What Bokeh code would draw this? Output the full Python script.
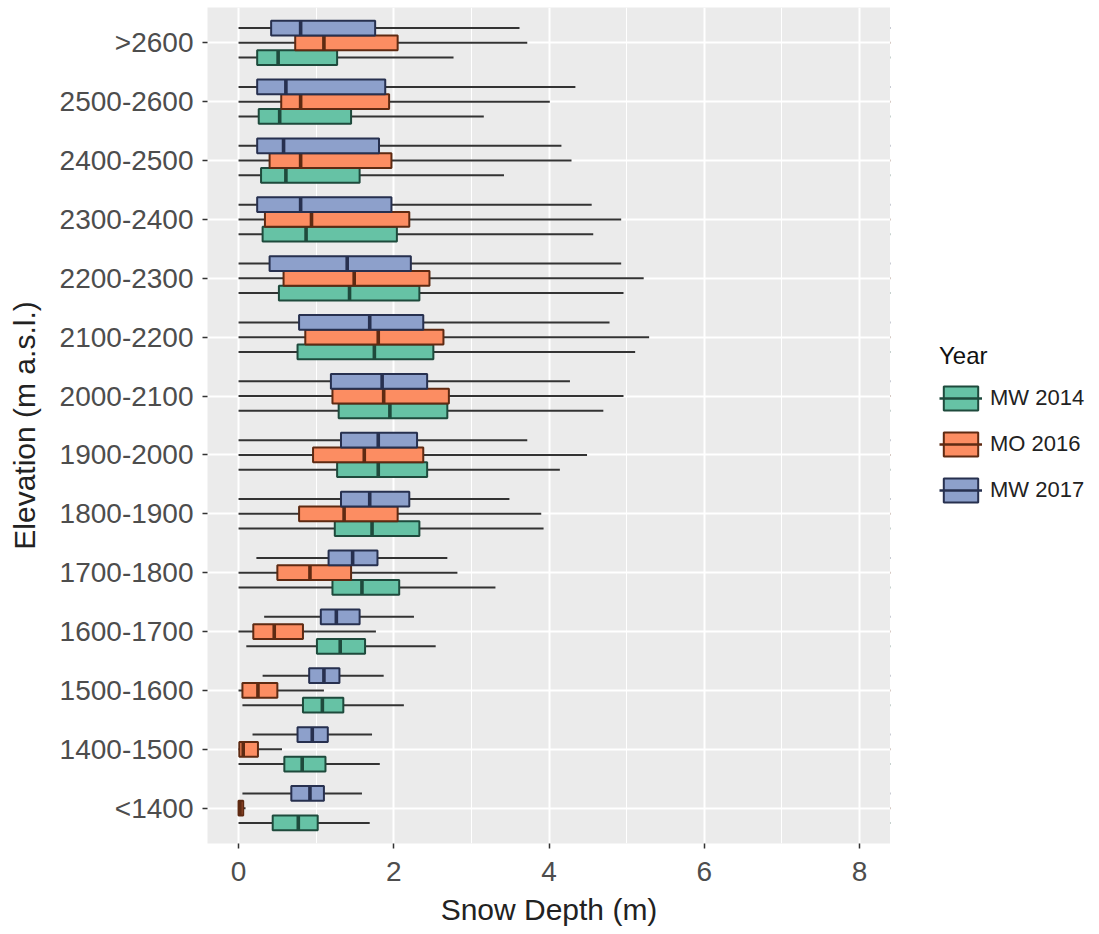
from bokeh.plotting import figure
from bokeh.layouts import row
from bokeh.models import (FactorRange, Range1d, FixedTicker, Legend, LegendItem,
                          ColumnDataSource)
from bokeh.transform import dodge
from bokeh.embed import file_html
from bokeh.resources import INLINE

# Elevation bands, bottom to top
cats = ["<1400", "1400-1500", "1500-1600", "1600-1700", "1700-1800", "1800-1900",
        "1900-2000", "2000-2100", "2100-2200", "2200-2300", "2300-2400",
        "2400-2500", "2500-2600", ">2600"]

years = ["MW 2014", "MO 2016", "MW 2017"]
fills = ["#66C2A5", "#FC8D62", "#8DA0CB"]
edges = ["#1E4A3C", "#5E2A12", "#27304F"]

# MW 2014 box statistics (m)
mw14_low = [0.00, 0.00, 0.05, 0.10, 0.00, 0.00, 0.00, 0.00, 0.00, 0.00, 0.00, 0.00, 0.00, 0.00]
mw14_q1  = [0.44, 0.59, 0.83, 1.01, 1.21, 1.24, 1.27, 1.29, 0.76, 0.52, 0.31, 0.29, 0.26, 0.24]
mw14_med = [0.77, 0.82, 1.08, 1.31, 1.59, 1.72, 1.80, 1.95, 1.75, 1.43, 0.87, 0.61, 0.53, 0.51]
mw14_q3  = [1.02, 1.12, 1.35, 1.63, 2.07, 2.33, 2.43, 2.69, 2.51, 2.33, 2.04, 1.56, 1.45, 1.27]
mw14_up  = [1.69, 1.82, 2.13, 2.54, 3.31, 3.93, 4.14, 4.70, 5.11, 4.96, 4.57, 3.42, 3.16, 2.77]

# MO 2016 box statistics (m)
mo16_low = [0.00, 0.00, 0.00, 0.00, 0.00, 0.00, 0.00, 0.00, 0.00, 0.00, 0.00, 0.00, 0.00, 0.00]
mo16_q1  = [0.00, 0.01, 0.05, 0.19, 0.50, 0.78, 0.96, 1.21, 0.86, 0.58, 0.34, 0.40, 0.55, 0.73]
mo16_med = [0.02, 0.06, 0.25, 0.46, 0.92, 1.36, 1.62, 1.87, 1.80, 1.49, 0.94, 0.80, 0.80, 1.10]
mo16_q3  = [0.06, 0.25, 0.50, 0.83, 1.45, 2.05, 2.38, 2.71, 2.64, 2.46, 2.20, 1.97, 1.94, 2.05]
mo16_up  = [0.09, 0.56, 1.10, 1.77, 2.82, 3.90, 4.49, 4.96, 5.29, 5.22, 4.93, 4.29, 4.01, 3.72]

# MW 2017 box statistics (m)
mw17_low = [0.05, 0.18, 0.31, 0.33, 0.23, 0.00, 0.00, 0.00, 0.00, 0.00, 0.00, 0.00, 0.00, 0.00]
mw17_q1  = [0.68, 0.76, 0.91, 1.06, 1.16, 1.32, 1.32, 1.19, 0.78, 0.40, 0.24, 0.24, 0.24, 0.42]
mw17_med = [0.92, 0.95, 1.10, 1.26, 1.47, 1.69, 1.80, 1.85, 1.69, 1.40, 0.80, 0.58, 0.61, 0.80]
mw17_q3  = [1.10, 1.15, 1.30, 1.56, 1.79, 2.20, 2.30, 2.43, 2.38, 2.22, 1.97, 1.81, 1.89, 1.76]
mw17_up  = [1.59, 1.72, 1.87, 2.26, 2.69, 3.49, 3.72, 4.27, 4.78, 4.93, 4.55, 4.16, 4.34, 3.62]

x_ticks = [0, 2, 4, 6, 8]
x_minor = [1, 3, 5, 7]

stats = [
    (mw14_low, mw14_q1, mw14_med, mw14_q3, mw14_up),
    (mo16_low, mo16_q1, mo16_med, mo16_q3, mo16_up),
    (mw17_low, mw17_q1, mw17_med, mw17_q3, mw17_up),
]
offsets = [-0.25, 0.0, 0.25]
box_h = 0.25

FONT = "Liberation Sans"

p = figure(width=890, height=934,
           y_range=FactorRange(factors=cats, range_padding=0.2 / 14),
           x_range=Range1d(-0.4, 8.4),
           output_backend="svg", toolbar_location=None,
           min_border_left=207, min_border_right=0,
           min_border_top=7, min_border_bottom=91)

p.background_fill_color = "#EBEBEB"
p.border_fill_color = "white"
p.outline_line_color = None

# legend panel: key glyphs are zero-size (only their styles feed the legend)
lg = figure(width=209, height=934, x_range=Range1d(50, 51), y_range=p.y_range,
            output_backend="svg", toolbar_location=None,
            x_axis_type=None, y_axis_type=None,
            min_border_left=0, min_border_right=0,
            min_border_top=7, min_border_bottom=91)
lg.outline_line_color = None
lg.background_fill_color = "white"
lg.border_fill_color = "white"
lg.grid.visible = False

items = []
for (lo, q1, med, q3, up), off, fc, ec, yr in zip(stats, offsets, fills, edges, years):
    src = ColumnDataSource(dict(cat=cats, lo=lo, q1=q1, med=med, q3=q3, up=up))
    p.segment(x0="lo", x1="up",
              y0=dodge("cat", off, range=p.y_range),
              y1=dodge("cat", off, range=p.y_range),
              source=src, line_color="#333333", line_width=2)
    p.hbar(y=dodge("cat", off, range=p.y_range), left="q1", right="q3",
           height=box_h, source=src, fill_color=fc, line_color=ec,
           line_width=2)
    p.segment(x0="med", x1="med",
              y0=dodge("cat", off - box_h / 2, range=p.y_range),
              y1=dodge("cat", off + box_h / 2, range=p.y_range),
              source=src, line_color=ec, line_width=3.6)
    kb = lg.hbar(y=dodge("cat", off, range=p.y_range), left="med", right="med",
                 height=0, source=src, fill_color=fc, line_color=ec,
                 line_width=2)
    km = lg.segment(x0="med", x1="med",
                    y0=dodge("cat", off, range=p.y_range),
                    y1=dodge("cat", off, range=p.y_range),
                    source=src, line_color=ec, line_width=2.4)
    items.append(LegendItem(label=yr, renderers=[kb, km]))

# grids
p.xgrid.ticker = FixedTicker(ticks=x_ticks, minor_ticks=x_minor)
p.xaxis.ticker = FixedTicker(ticks=x_ticks, minor_ticks=x_minor)
p.xgrid.grid_line_color = "white"
p.xgrid.grid_line_width = 2
p.xgrid.minor_grid_line_color = "white"
p.xgrid.minor_grid_line_width = 1
p.ygrid.grid_line_color = "white"
p.ygrid.grid_line_width = 2

for ax in (p.xaxis[0], p.yaxis[0]):
    ax.axis_line_color = None
    ax.major_tick_line_color = "#333333"
    ax.major_tick_line_width = 1.5
    ax.major_tick_out = 5
    ax.major_tick_in = 0
    ax.minor_tick_line_color = None
    ax.major_label_text_font = FONT
    ax.major_label_text_font_size = "28px"
    ax.major_label_text_color = "#4D4D4D"
    ax.axis_label_text_font = FONT
    ax.axis_label_text_font_size = "30px"
    ax.axis_label_text_font_style = "normal"
    ax.axis_label_text_color = "#222222"

p.xaxis.axis_label = "Snow Depth (m)"
p.yaxis.axis_label = "Elevation (m a.s.l.)"
p.xaxis.major_label_standoff = 13
p.yaxis.major_label_standoff = 9
p.xaxis.axis_label_standoff = 9
p.yaxis.axis_label_standoff = 16

legend = Legend(items=items, location=(49, 338), title="Year",
                orientation="vertical")
legend.title_text_font = FONT
legend.title_text_font_size = "24px"
legend.title_text_font_style = "normal"
legend.title_text_color = "#111111"
legend.title_standoff = 13
legend.label_text_font = FONT
legend.label_text_font_size = "22px"
legend.label_text_color = "#222222"
legend.glyph_width = 43
legend.glyph_height = 30
legend.spacing = 16
legend.label_standoff = 8
legend.padding = 0
legend.margin = 0
legend.border_line_color = None
legend.background_fill_alpha = 0
lg.add_layout(legend)

layout = row(p, lg, spacing=0)
open("out.html", "w").write(file_html(layout, INLINE))
